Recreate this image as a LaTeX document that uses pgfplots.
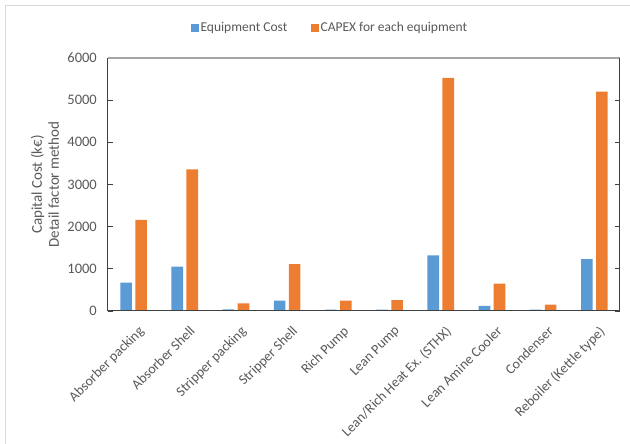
\documentclass[border=0pt]{standalone}
\usepackage{pgfplots}
\pgfplotsset{compat=1.18}
\usepackage{fontspec}
\setmainfont{Carlito}
\definecolor{eqblue}{HTML}{5B9BD5}
\definecolor{caporange}{HTML}{ED7D31}
\definecolor{txtgray}{HTML}{595959}
\definecolor{axgray}{HTML}{404040}
\definecolor{topgray}{HTML}{A6A6A6}
\definecolor{framegray}{HTML}{D9D9D9}
\begin{document}
\begin{tikzpicture}
\useasboundingbox (0,0) rectangle (630pt,444pt);
\fill[white] (0,0) rectangle (630pt,444pt);
\draw[framegray, line width=1.5pt] (5.5pt,0) -- (5.5pt,438.5pt) -- (630pt,438.5pt);
\begin{axis}[
  at={(108pt,133pt)}, anchor=south west,
  scale only axis, width=512pt, height=253pt,
  xmin=-0.5, xmax=9.5, ymin=0, ymax=6000,
  ybar=3.4pt, bar width=11.6pt,
  axis line style={draw=none},
  xtick={0,...,9},
  xticklabels={Absorber packing, Absorber Shell, Stripper packing, Stripper Shell, Rich Pump, Lean Pump, Lean/Rich Heat Ex. (STHX), Lean Amine Cooler, Condenser, Reboiler (Kettle type)},
  xtick style={draw=none},
  xticklabel style={xshift=4pt, yshift=-9pt, rotate=45, anchor=north east, inner sep=0pt, font=\fontsize{14pt}{17pt}\selectfont, text=txtgray},
  ytick={0,1000,...,6000},
  ytick align=inside,
  major tick length=5pt,
  ytick style={axgray, line width=0.8pt},
  yticklabel style={inner sep=0pt, xshift=-11pt, font=\fontsize{14.5pt}{17pt}\selectfont, text=txtgray},
  /pgf/number format/assume math mode=true,
  /pgf/number format/1000 sep={},
  ylabel={Capital Cost (k€)\\Detail factor method},
  ylabel style={at={(axis description cs:-0.123,0.5)}, anchor=center, align=center, font=\fontsize{15pt}{17pt}\selectfont, text=txtgray},
  legend columns=2,
  legend style={at={(axis description cs:0.434,1.1186)}, anchor=center, draw=none, fill=none,
    font=\fontsize{13.5pt}{16pt}\selectfont, text=txtgray,
    /tikz/every even column/.append style={column sep=22pt}},
  legend image code/.code={\fill[#1] (0pt,-3.6pt) rectangle (7.2pt,3.6pt);},
  clip=false,
]
\addplot[fill=eqblue, draw=none] coordinates {(0,670) (1,1050) (2,40) (3,245) (4,35) (5,35) (6,1320) (7,120) (8,35) (9,1230)};
\addplot[fill=caporange, draw=none] coordinates {(0,2160) (1,3360) (2,180) (3,1110) (4,245) (5,260) (6,5530) (7,650) (8,150) (9,5200)};
\legend{Equipment Cost, CAPEX for each equipment}
\draw[topgray, line width=1.3pt] (rel axis cs:0,1) -- (rel axis cs:1,1);
\draw[axgray, line width=1pt] (rel axis cs:0,1) -- (rel axis cs:0,0) -- (rel axis cs:1,0) -- (rel axis cs:1,1);
\end{axis}
\end{tikzpicture}
\end{document}
